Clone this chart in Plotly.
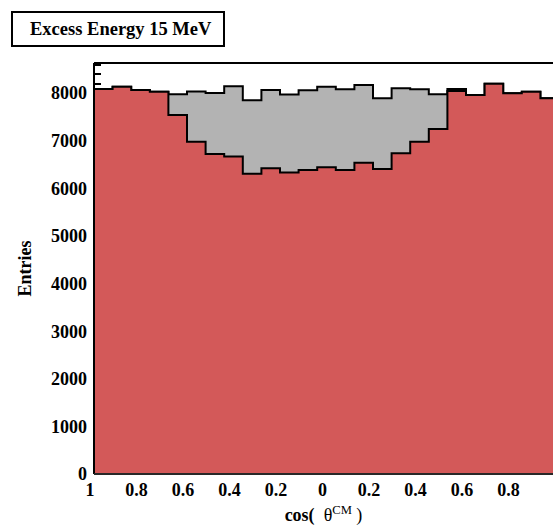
import numpy as np
import plotly.graph_objects as go

# ---- data ----
n_bins = 25
x_min, x_max = -1.0, 1.0
accepted = [8088, 8137, 8067, 8032, 7542, 6978, 6720, 6672, 6310, 6425, 6334, 6387, 6443,
            6387, 6541, 6408, 6737, 6981, 7248, 8046, 7962, 8200, 7997, 8032, 7893]
total = [8088, 8137, 8067, 8032, 7976, 8035, 8005, 8148, 7850, 8067, 7970, 8060, 8137,
         8082, 8172, 7893, 8103, 8082, 7976, 8088, 7962, 8200, 7997, 8032, 7893]
tick_vals = [-1, -0.8, -0.6, -0.4, -0.2, 0, 0.2, 0.4, 0.6, 0.8]
tick_text = ["1", "0.8", "0.6", "0.4", "0.2", "0", "0.2", "0.4", "0.6", "0.8"]
y_tick_vals = [0, 1000, 2000, 3000, 4000, 5000, 6000, 7000, 8000]
title_text = "Excess Energy 15 MeV"

edges = np.linspace(x_min, x_max, n_bins + 1)


def step(vals):
    xs = list(edges)
    ys = list(vals) + [vals[-1]]
    return xs, ys


FONT = "Liberation Serif"
RED = "rgb(211,89,89)"
GRAY = "rgb(179,179,179)"

fig = go.Figure()
xg, yg = step(total)
fig.add_trace(go.Scatter(x=xg, y=yg, mode="lines", line=dict(shape="hv", color="black", width=2),
                         fill="tozeroy", fillcolor=GRAY, hoverinfo="skip", showlegend=False))
xr, yr = step(accepted)
fig.add_trace(go.Scatter(x=xr, y=yr, mode="lines", line=dict(shape="hv", color="black", width=2),
                         fill="tozeroy", fillcolor=RED, hoverinfo="skip", showlegend=False))

W, H = 553, 528
L, R, T, B = 94, 0, 63, 54
pw, ph = W - L - R, H - T - B


def px(x):
    return (x - L) / pw


def py(y):
    return (H - B - y) / ph


x_span_full = 465.0
x_hi = x_min + (x_max - x_min) * pw / x_span_full
y_hi = 8634

fig.update_layout(
    width=W, height=H,
    margin=dict(l=L, r=R, t=T, b=B),
    paper_bgcolor="white", plot_bgcolor="white",
    font=dict(family=FONT, color="black"),
    xaxis=dict(range=[x_min, x_hi], showgrid=False, zeroline=False, showline=False,
               tickmode="array", tickvals=tick_vals, ticktext=tick_text, ticks="",
               tickfont=dict(family=FONT, size=18, weight="bold"), ticklabelstandoff=3,
               ticklabelshift=-4,
               title=dict(text="<b>cos(</b>\u00a0\u00a0θ<sup>CM</sup> )",
                          font=dict(family=FONT, size=18), standoff=9)),
    yaxis=dict(range=[0, y_hi], showgrid=False, zeroline=False, showline=False,
               tickmode="array", tickvals=y_tick_vals, ticks="inside", ticklen=12, tickwidth=2,
               tickcolor="black", layer="below traces",
               minor=dict(dtick=200, ticks="inside", ticklen=7, tickwidth=2, tickcolor="black"),
               tickfont=dict(family=FONT, size=18, weight="bold"), ticklabelstandoff=6,
               title=dict(text="<b>Entries</b>", font=dict(family=FONT, size=18), standoff=14)),
    shapes=[
        dict(type="line", xref="paper", yref="paper", x0=0, x1=1.01, y0=1, y1=1,
             line=dict(color="black", width=2)),
        dict(type="line", xref="paper", yref="paper", x0=0, x1=0, y0=0, y1=1,
             line=dict(color="black", width=2)),
        dict(type="line", xref="paper", yref="paper", x0=0, x1=1.01, y0=0, y1=0,
             line=dict(color="rgb(40,40,40)", width=2)),
        dict(type="rect", xref="paper", yref="paper", x0=px(12), x1=px(224), y0=py(46), y1=py(12),
             line=dict(color="black", width=2), fillcolor="white"),
    ],
    annotations=[
        dict(text="<b>" + title_text + "</b>", xref="paper", yref="paper",
             x=px(121), y=py(29), xanchor="center", yanchor="middle", showarrow=False,
             font=dict(family=FONT, size=18.5, color="black")),
    ],
)

fig.write_html("out.html")
